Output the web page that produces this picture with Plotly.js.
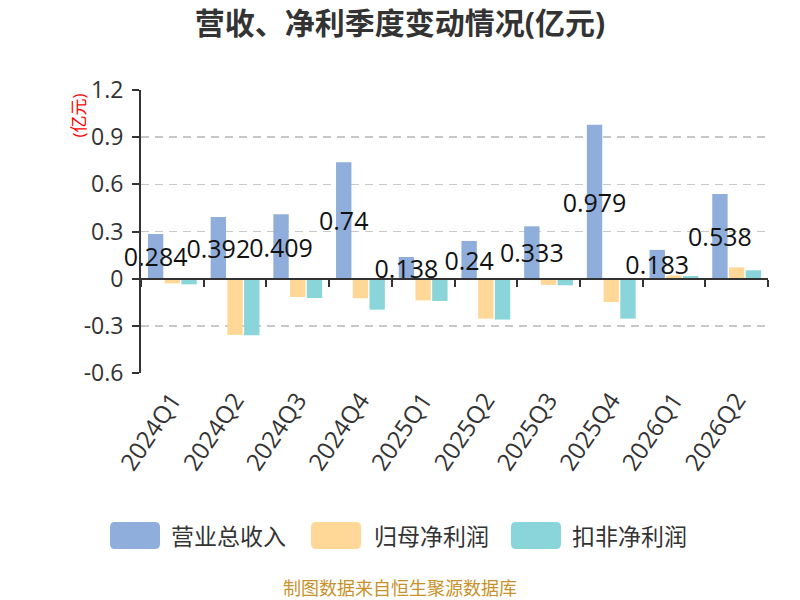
<!DOCTYPE html>
<html>
<head>
<meta charset="utf-8">
<script src="https://cdn.plot.ly/plotly-3.0.1.min.js"></script>
<style>
  html, body { margin: 0; padding: 0; background: #fff; }
  #chart { width: 800px; height: 600px; }
</style>
</head>
<body>
<div id="chart"></div>
<script>
const quarters = ['2024Q1','2024Q2','2024Q3','2024Q4','2025Q1','2025Q2','2025Q3','2025Q4','2026Q1','2026Q2'];
const revenue = [0.284, 0.392, 0.409, 0.74, 0.138, 0.24, 0.333, 0.979, 0.183, 0.538];
const netProfit = [-0.030, -0.358, -0.117, -0.125, -0.138, -0.254, -0.040, -0.149, 0.021, 0.072];
const deductedProfit = [-0.036, -0.360, -0.123, -0.197, -0.142, -0.260, -0.042, -0.254, 0.017, 0.053];
const seriesNames = ['营业总收入', '归母净利润', '扣非净利润'];
const seriesColors = ['#8FAEDB', '#FFD898', '#89D5D9'];
const yTickVals = [-0.6, -0.3, 0, 0.3, 0.6, 0.9, 1.2];
const yTickText = ['-0.6', '-0.3', '0', '0.3', '0.6', '0.9', '1.2'];
const titleText = '营收、净利季度变动情况(亿元)';
const unitText = '(亿元)';
const sourceText = '制图数据来自恒生聚源数据库';

const FONT = 'Open Sans, "Noto Sans CJK SC", sans-serif';

// plot area in pixels
const L = 141, R = 768, T = 90, B = 373;
const px = x => (x - L) / (R - L);
const py = y => (B - y) / (B - T);

const seriesValues = [revenue, netProfit, deductedProfit];
const traces = seriesValues.map((vals, i) => ({
  type: 'bar',
  x: quarters,
  y: vals,
  name: seriesNames[i],
  marker: { color: seriesColors[i], line: { width: 0 } },
  showlegend: false,
  hoverinfo: 'x+y',
  cliponaxis: false,
}));
traces[0].text = revenue.map(v => String(v));
traces[0].textposition = 'inside';
traces[0].insidetextanchor = 'middle';
traces[0].textangle = 0;
traces[0].constraintext = 'none';
traces[0].textfont = { family: FONT, size: 25, color: '#111' };

// custom legend
const legendRectCenters = [135, 336, 536];
const legendTextLeft = [169, 372, 570];
const legendY = 535.5;
const shapes = [];
const annotations = [];
const rr = 'M-20,-13.5 H20 Q25,-13.5 25,-8.5 V8.5 Q25,13.5 20,13.5 H-20 Q-25,13.5 -25,8.5 V-8.5 Q-25,-13.5 -20,-13.5 Z';
seriesNames.forEach((n, i) => {
  shapes.push({
    type: 'path', xref: 'paper', yref: 'paper',
    xsizemode: 'pixel', ysizemode: 'pixel',
    xanchor: px(legendRectCenters[i]), yanchor: py(legendY),
    path: rr, fillcolor: seriesColors[i], line: { width: 0 }
  });
  annotations.push({
    xref: 'paper', yref: 'paper', x: px(legendTextLeft[i]), y: py(legendY),
    xanchor: 'left', yanchor: 'middle', showarrow: false, text: n,
    font: { family: FONT, size: 23, color: '#333' }
  });
});
annotations.push({
  xref: 'paper', yref: 'paper', x: px(400), y: py(588),
  xanchor: 'center', yanchor: 'middle', showarrow: false, text: sourceText,
  font: { family: FONT, size: 18, color: '#C8922A' }
});
annotations.push({
  xref: 'paper', yref: 'paper', x: px(77.5), y: py(116),
  xanchor: 'center', yanchor: 'middle', showarrow: false, text: unitText,
  textangle: -90,
  font: { family: FONT, size: 17, color: '#FF0000' }
});

const layout = {
  width: 800, height: 600,
  margin: { l: L, r: 800 - R, t: T, b: 600 - B, pad: 0 },
  paper_bgcolor: '#fff', plot_bgcolor: '#fff',
  font: { family: FONT, color: '#333' },
  title: {
    text: '<b>' + titleText + '</b>',
    x: 0.5, xref: 'container', xanchor: 'center',
    y: 1 - 23 / 600, yref: 'container', yanchor: 'middle',
    font: { family: FONT, size: 30, color: '#333' }
  },
  barmode: 'group',
  bargap: 0.2,
  bargroupgap: 0.08,
  showlegend: false,
  xaxis: {
    type: 'category',
    anchor: 'free', position: (0 - (-0.6)) / (1.2 - (-0.6)),
    showline: true, linecolor: '#333', linewidth: 2,
    ticks: 'outside', tickson: 'boundaries', ticklen: 7, tickwidth: 2, tickcolor: '#333',
    tickangle: -56,
    ticklabelstandoff: 97,
    tickfont: { family: FONT, size: 24, color: '#333' },
    showgrid: false, zeroline: false, automargin: false,
    fixedrange: true
  },
  yaxis: {
    range: [-0.6, 1.2],
    tickvals: yTickVals, ticktext: yTickText,
    showline: true, linecolor: '#333', linewidth: 2,
    ticks: 'outside', ticklen: 7, tickwidth: 2, tickcolor: '#333',
    ticklabelstandoff: 4,
    tickfont: { family: FONT, size: 23, color: '#333' },
    showgrid: true, gridcolor: '#C8C8C8', gridwidth: 1.5, griddash: '8px,6px',
    zeroline: false, automargin: false,
    fixedrange: true
  },
  shapes: shapes,
  annotations: annotations
};

Plotly.newPlot('chart', traces, layout, { displayModeBar: false, staticPlot: true });
</script>
</body>
</html>
